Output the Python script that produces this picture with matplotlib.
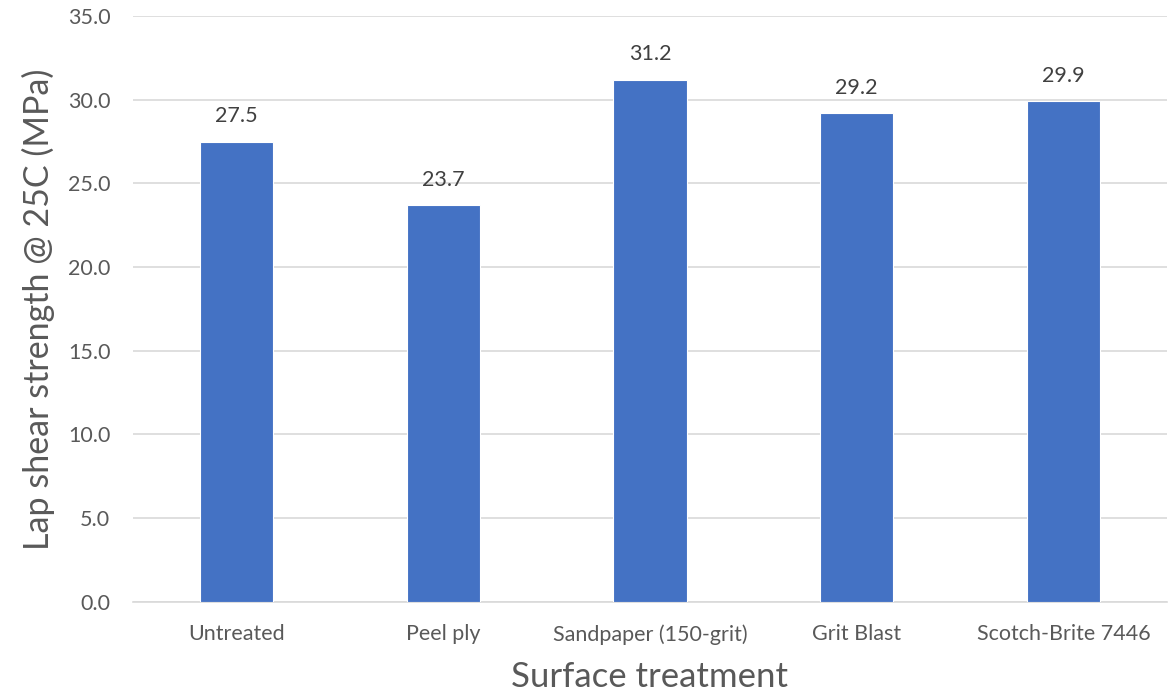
import matplotlib
matplotlib.use("Agg")
import matplotlib.pyplot as plt
import numpy as np

# data
treatments = ["Untreated", "Peel ply", "Sandpaper (150-grit)", "Grit Blast", "Scotch-Brite 7446"]
strength = [27.5, 23.7, 31.2, 29.2, 29.9]
y_ticks = [0, 5, 10, 15, 20, 25, 30, 35]

plt.rcParams["font.family"] = ["Lato", "DejaVu Sans"]

fig = plt.figure(figsize=(11.69, 6.95), dpi=100)
ax = fig.add_axes([0.114, 0.134, 0.884, 0.843])

x = np.arange(len(treatments))
bars = ax.bar(x, strength, width=0.355, color="#4472C4", edgecolor="white",
              linewidth=0.8, zorder=3)

for rect, v in zip(bars, strength):
    ax.annotate(f"{v:.1f}", (rect.get_x() + rect.get_width() / 2, v),
                xytext=(0, 11), textcoords="offset points",
                ha="center", va="bottom", fontsize=15.5, color="#404040")

ax.set_xlim(-0.5, len(treatments) - 0.5)
ax.set_ylim(0, 35)
ax.set_yticks(y_ticks)
ax.set_yticklabels([f"{t:.1f}" for t in y_ticks])
ax.set_xticks(x)
ax.set_xticklabels(treatments)
ax.tick_params(axis="both", length=0, labelsize=15.5, labelcolor="#595959")
ax.tick_params(axis="x", pad=16)
ax.tick_params(axis="y", pad=16.5)

ax.grid(axis="y", color="#D9D9D9", linewidth=1.2, zorder=0)
for side in ["top", "right", "left"]:
    ax.spines[side].set_visible(False)
ax.spines["bottom"].set_color("#D9D9D9")
ax.spines["bottom"].set_linewidth(1.2)

ax.set_xlabel("Surface treatment", fontsize=25, color="#595959", labelpad=12)
ax.set_ylabel("Lap shear strength @ 25C (MPa)", fontsize=24.5, color="#595959", labelpad=9)

fig.savefig("out.png", dpi=100)
